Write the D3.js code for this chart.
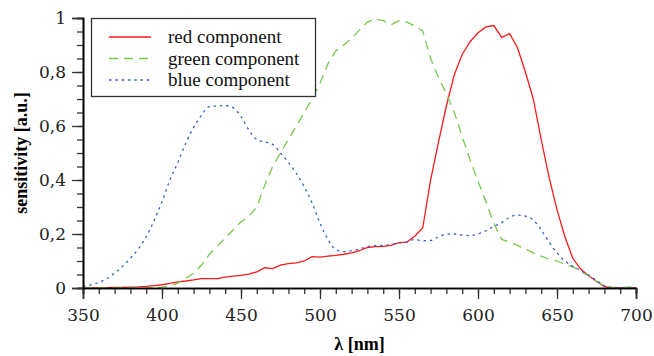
<!DOCTYPE html>
<html lang="en">
<head>
    <meta charset="UTF-8">
    <title>RGB sensitivity</title>
    <style>
        body { margin: 0; background: #fff; }
        #chart { width: 654px; height: 356px; }
        .tick text { font-family: "DejaVu Serif", serif; font-size: 17px; fill: #222; }
    </style>
</head>
<body>
    <div id="chart"></div>
    <script src="https://d3js.org/d3.v7.min.js"></script>
    <script>
        // wavelengths in nm, one sample every 5 nm
        const wavelengths = d3.range(350, 701, 5)

        const redComponent = [
            0, 0, 0, 0.001, 0.002, 0.002, 0.003, 0.004, 0.006, 0.009,
            0.012, 0.017, 0.023, 0.026, 0.03, 0.035, 0.035, 0.035, 0.04, 0.044,
            0.047, 0.051, 0.06, 0.075, 0.072, 0.085, 0.09, 0.093, 0.1, 0.116,
            0.114, 0.118, 0.121, 0.125, 0.13, 0.138, 0.15, 0.153, 0.154, 0.158,
            0.168, 0.17, 0.192, 0.222, 0.4, 0.54, 0.675, 0.79, 0.865, 0.912,
            0.945, 0.967, 0.972, 0.928, 0.942, 0.89, 0.8, 0.7, 0.55, 0.41,
            0.29, 0.19, 0.11, 0.07, 0.045, 0.025, 0.005, 0, 0, 0, 0
        ]
        const greenComponent = [
            0, 0, 0, 0, 0, 0, 0, 0, 0, 0,
            0.002, 0.008, 0.018, 0.035, 0.055, 0.085, 0.125, 0.155, 0.185, 0.215,
            0.245, 0.265, 0.3, 0.38, 0.45, 0.5, 0.55, 0.6, 0.65, 0.7,
            0.758, 0.83, 0.878, 0.9, 0.925, 0.955, 0.985, 0.996, 0.99, 0.975,
            0.99, 0.985, 0.97, 0.952, 0.85, 0.78, 0.72, 0.65, 0.56, 0.475,
            0.395, 0.32, 0.24, 0.18, 0.17, 0.158, 0.145, 0.13, 0.118, 0.107,
            0.1, 0.088, 0.078, 0.062, 0.045, 0.025, 0.007, 0.002, 0.002, 0.003, 0.003
        ]
        const blueComponent = [
            0.006, 0.012, 0.02, 0.035, 0.055, 0.08, 0.11, 0.145, 0.19, 0.25,
            0.32, 0.4, 0.465, 0.535, 0.595, 0.64, 0.672, 0.674, 0.676, 0.668,
            0.635, 0.585, 0.55, 0.541, 0.532, 0.5, 0.465, 0.425, 0.375, 0.315,
            0.24, 0.18, 0.142, 0.135, 0.138, 0.144, 0.153, 0.157, 0.158, 0.161,
            0.167, 0.171, 0.18, 0.175, 0.176, 0.19, 0.199, 0.2, 0.196, 0.194,
            0.2, 0.212, 0.228, 0.242, 0.262, 0.27, 0.266, 0.252, 0.215, 0.17,
            0.13, 0.1, 0.08, 0.065, 0.048, 0.028, 0.008, 0.001, 0, 0, 0
        ]

        const seriesNames = ['red component', 'green component', 'blue component']
        const xTicks = [350, 400, 450, 500, 550, 600, 650, 700]
        const yTicks = [0, 0.2, 0.4, 0.6, 0.8, 1]

        const width = 654
        const height = 356
        const margin = { top: 18, right: 18, bottom: 68, left: 83 }

        const series = [
            { name: seriesNames[0], values: redComponent, color: '#ff1a1a', dash: null, curve: d3.curveLinear },
            { name: seriesNames[1], values: greenComponent, color: '#7cc44e', dash: '9,6', curve: d3.curveLinear },
            { name: seriesNames[2], values: blueComponent, color: '#3f5fbf', dash: '2.5,3.8', curve: d3.curveMonotoneX }
        ]

        const x = d3.scaleLinear().domain([350, 700]).range([margin.left, width - margin.right])
        const y = d3.scaleLinear().domain([0, 1]).range([height - margin.bottom, margin.top])

        const svg = d3.select('#chart')
            .append('svg')
            .attr('width', width)
            .attr('height', height)

        // lines first, axes drawn on top
        const lines = svg.append('g').attr('class', 'lines')
        series.forEach(s => {
            const line = d3.line()
                .x((d, i) => x(wavelengths[i]))
                .y(d => y(d))
                .curve(s.curve)
            lines.append('path')
                .datum(s.values)
                .attr('fill', 'none')
                .attr('stroke', s.color)
                .attr('stroke-width', 1.3)
                .attr('stroke-dasharray', s.dash)
                .attr('d', line)
        })

        // x axis: minor ticks every 10 nm, labelled every 50
        const xAxis = svg.append('g')
            .attr('transform', `translate(0, ${y(0)})`)
        xAxis.call(d3.axisBottom(x).tickValues(d3.range(350, 701, 10)).tickSize(6).tickFormat(''))
        xAxis.append('g').call(d3.axisBottom(x).tickValues(xTicks).tickSize(11).tickPadding(10).tickFormat(d3.format('d')))
        xAxis.selectAll('.domain').attr('stroke', '#000').attr('stroke-width', 1.6)
        xAxis.selectAll('.tick line').attr('stroke', '#333').attr('stroke-width', 1.3)
        xAxis.select('g').select('.domain').remove()

        // y axis: minor ticks every 0.05
        const commaFormat = d => d3.format('~g')(d).replace('.', ',')
        const yAxis = svg.append('g')
            .attr('transform', `translate(${x(350)}, 0)`)
        yAxis.call(d3.axisLeft(y).tickValues(d3.range(0, 1.0001, 0.05)).tickSize(6).tickFormat(''))
        yAxis.append('g').call(d3.axisLeft(y).tickValues(yTicks).tickSize(11).tickPadding(6).tickFormat(commaFormat))
        yAxis.selectAll('.domain').attr('stroke', '#000').attr('stroke-width', 1.6)
        yAxis.selectAll('.tick line').attr('stroke', '#333').attr('stroke-width', 1.3)
        yAxis.select('g').select('.domain').remove()

        // axis titles
        svg.append('text')
            .attr('x', (x(350) + x(700)) / 2)
            .attr('y', 350)
            .attr('text-anchor', 'middle')
            .style('font-family', '"Liberation Serif", serif')
            .style('font-weight', 'bold')
            .style('font-size', '18px')
            .text('λ [nm]')

        svg.append('text')
            .attr('transform', `translate(27, ${(y(0) + y(1)) / 2}) rotate(-90)`)
            .attr('text-anchor', 'middle')
            .style('font-family', '"Liberation Serif", serif')
            .style('font-weight', 'bold')
            .style('font-size', '18px')
            .text('sensitivity [a.u.]')

        // legend
        const legend = svg.append('g').attr('class', 'legend')
        legend.append('rect')
            .attr('x', 91.5)
            .attr('y', 18.5)
            .attr('width', 224)
            .attr('height', 78)
            .attr('fill', '#fff')
            .attr('stroke', '#333')
            .attr('stroke-width', 1.3)
        series.forEach((s, i) => {
            const ly = 37 + i * 21.5
            legend.append('line')
                .attr('x1', 109).attr('x2', 151)
                .attr('y1', ly).attr('y2', ly)
                .attr('stroke', s.color)
                .attr('stroke-width', 1.3)
                .attr('stroke-dasharray', s.dash)
            legend.append('text')
                .attr('x', 168)
                .attr('y', ly)
                .attr('dy', '0.33em')
                .style('font-family', '"Liberation Serif", serif')
                .style('font-size', '19px')
                .attr('fill', '#111')
                .text(s.name)
        })
    </script>
</body>
</html>
